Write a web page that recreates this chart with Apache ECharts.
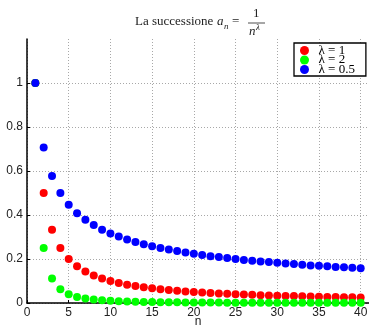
<!DOCTYPE html>
<html><head><meta charset="utf-8">
<script src="https://cdn.jsdelivr.net/npm/echarts@6/dist/echarts.min.js"></script>
<style>html,body{margin:0;padding:0;background:#fff}#c{width:369px;height:328px}</style>
</head><body><div id="c"></div>
<script>
const nValues = [1,2,3,4,5,6,7,8,9,10,11,12,13,14,15,16,17,18,19,20,21,22,23,24,25,26,27,28,29,30,31,32,33,34,35,36,37,38,39,40];
const lambda1 = [1,0.5,0.333,0.25,0.2,0.167,0.143,0.125,0.111,0.1,0.0909,0.0833,0.0769,0.0714,0.0667,0.0625,0.0588,0.0556,0.0526,0.05,0.0476,0.0455,0.0435,0.0417,0.04,0.0385,0.037,0.0357,0.0345,0.0333,0.0323,0.0313,0.0303,0.0294,0.0286,0.0278,0.027,0.0263,0.0256,0.025];
const lambda2 = [1,0.25,0.111,0.0625,0.04,0.0278,0.0204,0.0156,0.0123,0.01,0.0083,0.0069,0.0059,0.0051,0.0044,0.0039,0.0035,0.0031,0.0028,0.0025,0.0023,0.0021,0.0019,0.0017,0.0016,0.0015,0.0014,0.0013,0.0012,0.0011,0.001,0.001,0.0009,0.0009,0.0008,0.0008,0.0007,0.0007,0.0007,0.0006];
const lambda05 = [1,0.707,0.577,0.5,0.447,0.408,0.378,0.354,0.333,0.316,0.302,0.289,0.277,0.267,0.258,0.25,0.243,0.236,0.229,0.224,0.218,0.213,0.209,0.204,0.2,0.196,0.192,0.189,0.186,0.183,0.18,0.177,0.174,0.171,0.169,0.167,0.164,0.162,0.16,0.158];
const seriesNames = ['λ = 1','λ = 2','λ = 0.5'];
const seriesColors = ['#ff0000','#00ff00','#0000ff'];
const seriesData = [lambda1, lambda2, lambda05];

const chart = echarts.init(document.getElementById('c'), null, {renderer:'canvas'});
const serif = '"Liberation Serif", "DejaVu Serif", serif';
const sans = '"Liberation Sans", Arial, sans-serif';
const gridLine = {show:true, showMaxLine:false, lineStyle:{color:'#a8a8a8', type:[1,2], width:1}};
chart.setOption({
  animation:false,
  grid:{left:27, right:0, top:39, bottom:25, containLabel:false, outerBoundsMode:'none'},
  xAxis:{type:'value', min:0, max:41, interval:5, name:'n', nameLocation:'middle', nameGap:13, nameMoveOverlap:false,
    nameTextStyle:{fontFamily:sans, fontSize:12, color:'#222'},
    axisLine:{show:true, onZero:false, lineStyle:{color:'#000', width:1.5}},
    axisTick:{show:true, inside:true, length:3, lineStyle:{color:'#000'}},
    axisLabel:{fontFamily:sans, fontSize:12, color:'#222', margin:4, showMaxLabel:false,
      formatter:v=> (v % 5 === 0 ? String(v) : '')},
    splitLine:gridLine},
  yAxis:{type:'value', min:0, max:1.2, interval:0.2,
    axisLine:{show:true, onZero:false, lineStyle:{color:'#000', width:1.5}},
    axisTick:{show:true, inside:true, length:3, lineStyle:{color:'#000'}},
    axisLabel:{fontFamily:sans, fontSize:12, color:'#222', margin:4, showMaxLabel:false,
      formatter:v=> (v > 1.1 ? '' : String(Math.round(v*10)/10))},
    splitLine:gridLine},
  legend:{left:294, top:43, orient:'vertical', data:seriesNames,
    backgroundColor:'#fff', borderColor:'#000', borderWidth:1.3,
    padding:[1,11,0,6], itemGap:-3.5, itemWidth:18, itemHeight:9, icon:'circle',
    textStyle:{fontFamily:serif, fontSize:13, color:'#000'}},
  series: seriesNames.map((name,i)=>({
    name, type:'scatter', symbol:'circle', symbolSize:8, clip:false,
    itemStyle:{color:seriesColors[i], opacity:1},
    data: nValues.map((n,j)=>[n, seriesData[i][j]]),
    z: 2+i
  })),
  graphic:[
    {type:'text', left:135, top:15, style:{text:'La successione', font:'13px '+serif, fill:'#222'}},
    {type:'text', left:217, top:15, style:{text:'a', font:'italic 13px '+serif, fill:'#222'}},
    {type:'text', left:224, top:22, style:{text:'n', font:'italic 9px '+serif, fill:'#222'}},
    {type:'text', left:232, top:15, style:{text:'=', font:'13px '+serif, fill:'#222'}},
    {type:'text', left:253, top:7, style:{text:'1', font:'13px '+serif, fill:'#222'}},
    {type:'line', shape:{x1:248, y1:23, x2:265, y2:23}, style:{stroke:'#222', lineWidth:0.8}},
    {type:'text', left:249, top:25, style:{text:'n', font:'italic 13px '+serif, fill:'#222'}},
    {type:'text', left:256, top:23, style:{text:'λ', font:'italic 9px '+serif, fill:'#222'}}
  ]
});
</script></body></html>
